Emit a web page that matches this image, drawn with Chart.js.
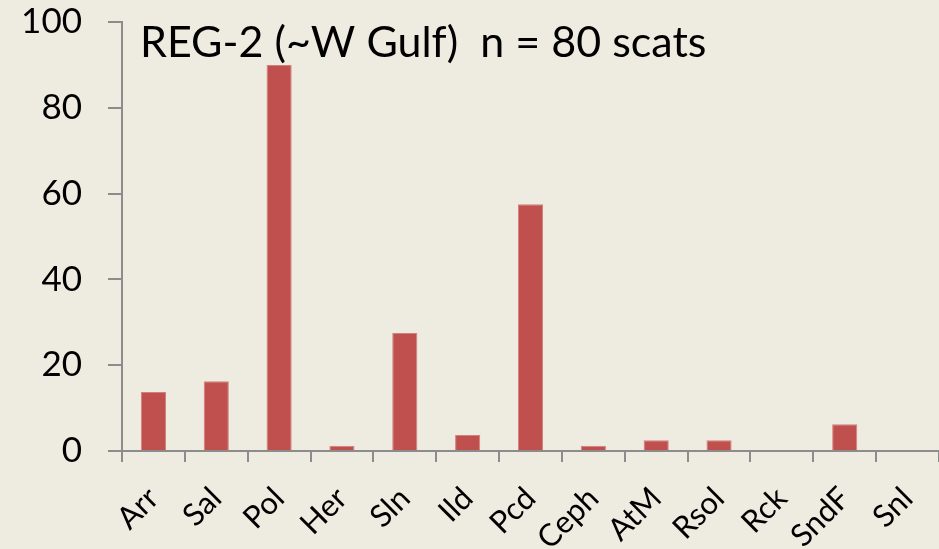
<!DOCTYPE html>
<html>
<head>
<meta charset="utf-8">
<script src="https://cdn.jsdelivr.net/npm/chart.js@4"></script>
<style>
  html, body { margin: 0; padding: 0; background: #EEECE1; }
  #wrap { width: 939px; height: 549px; position: relative; }
</style>
</head>
<body>
<div id="wrap"><canvas id="chart"></canvas></div>
<script>
const categories = ['Arr', 'Sal', 'Pol', 'Her', 'Sln', 'Ild', 'Pcd', 'Ceph', 'AtM', 'Rsol', 'Rck', 'SndF', 'Snl'];
const percents = [13.75, 16.25, 90, 1.25, 27.5, 3.75, 57.5, 1.25, 2.5, 2.5, 0, 6.25, 0];
const yTicks = [0, 20, 40, 60, 80, 100];
const titleText = 'REG-2 (~W Gulf)  n = 80 scats';

const axisGray = '#8c8c8c';

// title sits inside the plot area, top left
const titleInside = {
    id: 'titleInside',
    afterDraw(chart) {
        const ctx = chart.ctx;
        ctx.save();
        ctx.font = '43px Lato';
        ctx.fillStyle = '#000';
        ctx.textBaseline = 'alphabetic';
        ctx.fillText(titleText, chart.chartArea.left + 18, 57);
        ctx.restore();
    }
};

new Chart(document.getElementById('chart').getContext('2d'), {
    type: 'bar',
    data: {
        labels: categories,
        datasets: [{
            data: percents,
            backgroundColor: '#C0504D',
            borderColor: '#D27F7D',
            borderWidth: 1,
            categoryPercentage: 1,
            barPercentage: 0.4
        }]
    },
    options: {
        responsive: true,
        maintainAspectRatio: false,
        animation: false,
        layout: { padding: { top: 22, right: 0, left: 0, bottom: 0 } },
        plugins: {
            legend: { display: false },
            tooltip: { enabled: false }
        },
        scales: {
            x: {
                afterFit: (s) => {
                    s.height = 98;
                    s.paddingLeft = 0;
                    s.paddingRight = 0;
                },
                border: { color: axisGray, width: 2 },
                grid: {
                    offset: true,
                    drawOnChartArea: false,
                    drawTicks: true,
                    tickLength: 11,
                    color: axisGray,
                    lineWidth: 2
                },
                ticks: {
                    color: '#000',
                    font: { family: 'Lato', size: 31 },
                    minRotation: 45,
                    maxRotation: 45,
                    padding: 18,
                    autoSkip: false
                }
            },
            y: {
                min: 0,
                max: 100,
                afterFit: (s) => {
                    s.width = 122;
                    s.paddingTop = 0;
                    s.paddingBottom = 0;
                },
                afterBuildTicks: (s) => { s.ticks = yTicks.map(v => ({ value: v })); },
                border: { color: axisGray, width: 2 },
                grid: {
                    drawOnChartArea: false,
                    drawTicks: true,
                    tickLength: 14,
                    color: axisGray,
                    lineWidth: 2
                },
                ticks: {
                    color: '#000',
                    font: { family: 'Lato', size: 35 },
                    padding: 26
                }
            }
        }
    },
    plugins: [titleInside]
});
</script>
</body>
</html>
